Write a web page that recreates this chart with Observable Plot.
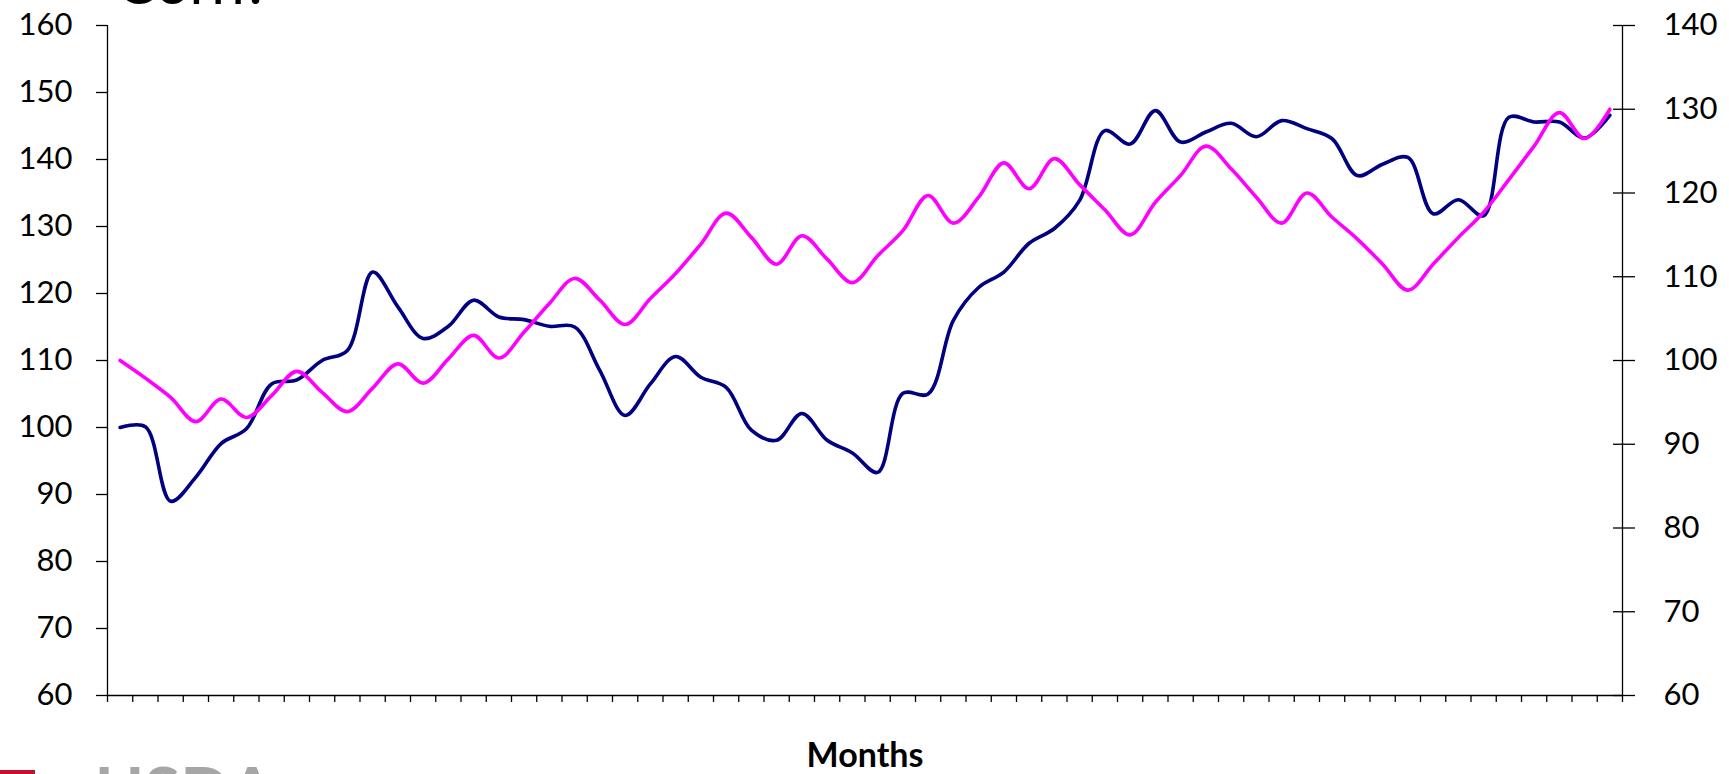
<!DOCTYPE html>
<html><head><meta charset="utf-8">
<script src="https://cdn.jsdelivr.net/npm/d3@7"></script>
<script src="https://cdn.jsdelivr.net/npm/@observablehq/plot@0.6"></script>
<style>
body{margin:0;background:#fff;font-family:Lato,sans-serif;}
#wrap{position:relative;width:1729px;height:774px;overflow:hidden;background:#fff;}
#wrap > svg{position:absolute;left:0;top:0;}
</style></head><body><div id="wrap"></div>
<script>
// ---- data ----
const months = d3.range(1, 61);
const leftSeries = [
  100.0, 100.1, 89.0, 92.6, 97.6, 99.8, 106.5, 107.1, 110.0, 111.5,
  123.2, 118.0, 113.3, 115.1, 119.0, 116.5, 116.1, 115.1, 115.0, 108.5,
  101.8, 106.5, 110.6, 107.5, 106.0, 99.6, 98.1, 102.1, 98.1, 96.2,
  93.3, 105.1, 105.0, 116.0, 120.9, 123.2, 127.5, 129.7, 133.9, 144.3,
  142.3, 147.3, 142.6, 144.1, 145.4, 143.4, 145.8, 144.6, 143.1, 137.6,
  139.3, 140.3, 131.9, 134.0, 131.6, 146.3, 145.6, 145.6, 143.2, 146.6
];
const rightSeries = [
  100.0, 97.9, 95.6, 92.7, 95.4, 93.2, 95.8, 98.7, 96.2, 93.9,
  96.7, 99.6, 97.3, 100.2, 103.0, 100.3, 103.4, 106.8, 109.8, 107.2,
  104.3, 107.4, 110.4, 113.9, 117.6, 114.7, 111.5, 114.9, 112.1, 109.3,
  112.5, 115.5, 119.7, 116.4, 119.5, 123.6, 120.5, 124.1, 121.0, 118.0,
  115.0, 118.9, 122.1, 125.6, 122.9, 119.5, 116.4, 120.0, 117.1, 114.5,
  111.5, 108.4, 111.5, 114.7, 117.7, 121.6, 125.6, 129.6, 126.5, 130.0
];
const leftTicks = [60, 70, 80, 90, 100, 110, 120, 130, 140, 150, 160];
const rightTicks = [60, 70, 80, 90, 100, 110, 120, 130, 140];
const xLabel = "Months";
const titleText = "Corn?";
const logoText = "USDA";

// ---- layout ----
const W = 1729, H = 774, ML = 107, MR = 107, MT = 25, MB = 79;
const data = months.map((m, i) => ({m, left: leftSeries[i], right: rightSeries[i]}));
const bounds = d3.range(0, months.length + 1).map(k => k + 0.5);
const xDomain = [0.5, months.length + 0.5];
const font = "Lato, 'Open Sans', sans-serif";

const plotA = Plot.plot({
  width: W, height: H, marginLeft: ML, marginRight: MR, marginTop: MT, marginBottom: MB,
  style: {background: "transparent", color: "#000", fontFamily: font},
  x: {domain: xDomain},
  y: {domain: [60, 160]},
  marks: [
    Plot.axisX({ticks: bounds, tickSize: 7, tickFormat: () => "", label: null, strokeWidth: 1.3}),
    Plot.axisY({anchor: "left", ticks: leftTicks, tickSize: 11, tickPadding: 24, fontSize: 31, label: null, strokeWidth: 1.3}),
    Plot.ruleY([60], {strokeWidth: 1.3}),
    Plot.ruleX([xDomain[0]], {strokeWidth: 1.3}),
    Plot.lineY(data, {x: "m", y: "left", stroke: "#000080", strokeWidth: 3.6, curve: "catmull-rom"}),
    Plot.text([xLabel], {frameAnchor: "bottom", dy: 71, fontSize: 34, fontWeight: "bold", fill: "#000"})
  ]
});

const plotB = Plot.plot({
  width: W, height: H, marginLeft: ML, marginRight: MR, marginTop: MT, marginBottom: MB,
  style: {background: "transparent", color: "#000", fontFamily: font},
  x: {domain: xDomain, axis: null},
  y: {domain: [60, 140]},
  marks: [
    Plot.axisY({anchor: "right", ticks: rightTicks, tickSize: 22, dx: -10, tickPadding: 29, fontSize: 31, label: null, strokeWidth: 1.3}),
    Plot.ruleX([xDomain[1]], {strokeWidth: 1.3}),
    Plot.lineY(data, {x: "m", y: "right", stroke: "#ff00ff", strokeWidth: 3.6, curve: "catmull-rom"})
  ]
});

const deco = d3.create("svg").attr("width", W).attr("height", H);
deco.append("text").attr("x", 116).attr("y", 4).attr("font-size", 60)
  .attr("font-family", font).attr("fill", "#000").text(titleText);
deco.append("rect").attr("x", 0).attr("y", 770).attr("width", 35).attr("height", 4).attr("fill", "#c8102e");
deco.append("text").attr("x", 95).attr("y", 816).attr("font-size", 66).attr("font-weight", "bold")
  .attr("font-family", font).attr("fill", "#a6a6a6").text(logoText);

const wrap = document.getElementById("wrap");
wrap.append(plotA);
wrap.append(plotB);
wrap.append(deco.node());
</script>
</body></html>
